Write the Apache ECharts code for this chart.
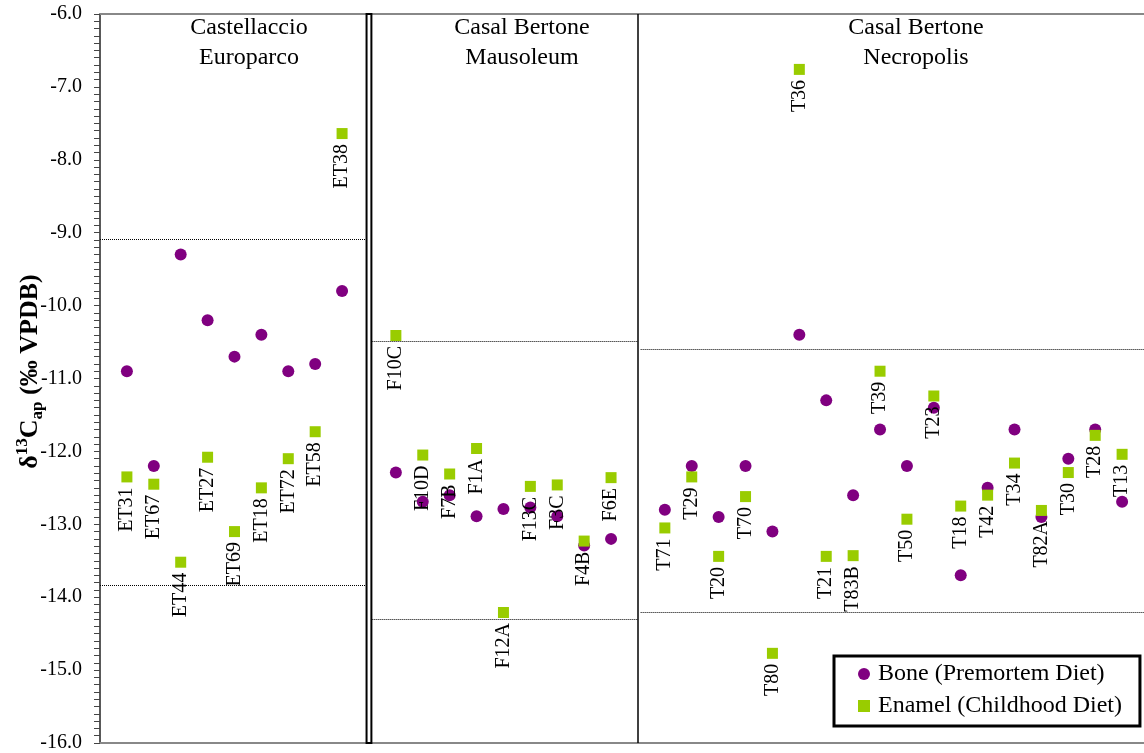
<!DOCTYPE html>
<html>
<head>
<meta charset="utf-8">
<script src="https://cdn.jsdelivr.net/npm/echarts@6/dist/echarts.min.js"></script>
<style>
  html, body { margin: 0; padding: 0; background: #fff; }
  #chart { width: 1144px; height: 753px; }
</style>
</head>
<body>
<div id="chart"></div>
<script>
// Sample identifiers and δ13C (apatite) values, one block per site
const castIds = ['ET31', 'ET67', 'ET44', 'ET27', 'ET69', 'ET18', 'ET72', 'ET58', 'ET38'];
const castBone = [-10.9, -12.2, -9.3, -10.2, -10.7, -10.4, -10.9, -10.8, -9.8];
const castEnamel = [-12.35, -12.45, -13.52, -12.08, -13.1, -12.5, -12.1, -11.73, -7.64];
const castRange = [-9.09, -13.83];

const mausIds = ['F10C', 'F10D', 'F7B', 'F1A', 'F12A', 'F13C', 'F3C', 'F4B', 'F6E'];
const mausBone = [-12.29, -12.69, -12.6, -12.89, -12.79, -12.77, -12.89, -13.29, -13.2];
const mausEnamel = [-10.41, -12.05, -12.31, -11.96, -14.21, -12.48, -12.46, -13.23, -12.36];
const mausRange = [-10.49, -14.30];

const necroIds = ['T71', 'T29', 'T20', 'T70', 'T80', 'T36', 'T21', 'T83B', 'T39',
                  'T50', 'T23', 'T18', 'T42', 'T34', 'T82A', 'T30', 'T28', 'T13'];
const necroBone = [-12.8, -12.2, -12.9, -12.2, -13.1, -10.4, -11.3, -12.6, -11.7,
                   -12.2, -11.4, -13.7, -12.5, -11.7, -12.9, -12.1, -11.7, -12.69];
const necroEnamel = [-13.05, -12.35, -13.44, -12.62, -14.77, -6.76, -13.44, -13.43, -10.9,
                     -12.93, -11.24, -12.75, -12.6, -12.16, -12.81, -12.29, -11.78, -12.04];
const necroRange = [-10.60, -14.21];

const siteTitles = ['Castellaccio\nEuroparco', 'Casal Bertone\nMausoleum', 'Casal Bertone\nNecropolis'];
const seriesNames = ['Bone (Premortem Diet)', 'Enamel (Childhood Diet)'];

const FONT = '"Liberation Serif", "Times New Roman", Times, serif';

const sites = [
  { ids: castIds, bone: castBone, enamel: castEnamel, range: castRange },
  { ids: mausIds, bone: mausBone, enamel: mausEnamel, range: mausRange },
  { ids: necroIds, bone: necroBone, enamel: necroEnamel, range: necroRange }
];

// Each site occupies consecutive slots on the x scale, with one empty slot as a divider
const bonePts = [];
const enamelPts = [];
const dividers = [];
let offset = 0;
sites.forEach(s => {
  s.start = offset;
  s.ids.forEach((id, i) => {
    const x = offset + i + 1;
    bonePts.push([x, s.bone[i], id]);
    enamelPts.push([x, s.enamel[i], id]);
  });
  offset += s.ids.length + 1;
  s.end = offset;
  dividers.push(offset);
});
const xMax = offset;

// Dotted range lines for each site, stopping at the dividers
const rangeLines = [];
sites.forEach((s, si) => {
  const x0 = si === 0 ? s.start : s.start + 0.1;
  const x1 = si === 0 ? s.end - 0.1 : (si === sites.length - 1 ? xMax : s.end);
  s.range.forEach(v => rangeLines.push([{ coord: [x0, v] }, { coord: [x1, v] }]));
});

const chart = echarts.init(document.getElementById('chart'), null, { renderer: 'canvas' });

const titleCenters = [249, 522, 916];

chart.setOption({
  animation: false,
  backgroundColor: '#fff',
  grid: { left: 100, top: 14, width: 1049, height: 729, outerBoundsMode: 'none', containLabel: false },
  xAxis: [
    {
      type: 'value', min: 0, max: xMax, position: 'bottom',
      axisLine: { show: true, onZero: false, lineStyle: { color: '#888', width: 2 } },
      axisTick: { show: false }, axisLabel: { show: false }, splitLine: { show: false }
    },
    {
      type: 'value', min: 0, max: xMax, position: 'top',
      axisLine: { show: true, onZero: false, lineStyle: { color: '#888', width: 2 } },
      axisTick: { show: false }, axisLabel: { show: false }, splitLine: { show: false }
    }
  ],
  yAxis: {
    type: 'value', min: -16, max: -6, interval: 1,
    axisLine: { show: true, onZero: false, lineStyle: { color: '#222', width: 1.5 } },
    axisTick: { show: true, inside: false, length: 6, lineStyle: { color: '#444', width: 1 } },
    minorTick: { show: true, splitNumber: 10, length: 6, lineStyle: { color: '#444', width: 1 } },
    splitLine: { show: false },
    axisLabel: {
      margin: 18, color: '#000', fontFamily: FONT, fontSize: 20,
      formatter: v => v.toFixed(1)
    },
    name: '{d|δ}{sup|13}{d|C}{sub|ap}{d| (‰ VPDB)}',
    nameLocation: 'middle',
    nameRotate: 90,
    nameGap: 54,
    nameMoveOverlap: false,
    nameTextStyle: {
      padding: [0, 0, 0, 14],
      fontFamily: FONT, fontWeight: 'bold', fontSize: 26, color: '#000',
      rich: {
        d: { fontFamily: FONT, fontWeight: 'bold', fontSize: 26, lineHeight: 32, color: '#000' },
        sup: { fontFamily: FONT, fontWeight: 'bold', fontSize: 17, lineHeight: 17, verticalAlign: 'top', color: '#000' },
        sub: { fontFamily: FONT, fontWeight: 'bold', fontSize: 17, lineHeight: 17, verticalAlign: 'bottom', color: '#000' }
      }
    }
  },
  legend: {
    orient: 'vertical',
    left: 834, top: 656,
    data: seriesNames,
    itemWidth: 12, itemHeight: 12, itemGap: 4,
    padding: [4, 18, 6, 24],
    borderColor: '#000', borderWidth: 3, borderRadius: 0,
    backgroundColor: '#fff',
    textStyle: { fontFamily: FONT, fontSize: 24, color: '#000', lineHeight: 28, padding: [0, 0, 0, 3] },
    selectedMode: false
  },
  graphic: siteTitles.map((t, i) => ({
    type: 'text',
    x: titleCenters[i], y: 13,
    silent: true,
    style: {
      text: t, fill: '#000', font: '24px ' + FONT,
      align: 'center', verticalAlign: 'top', lineHeight: 29.5
    }
  })),
  series: [
    {
      name: seriesNames[0],
      type: 'scatter',
      symbol: 'circle', symbolSize: 12,
      itemStyle: { color: '#800080', opacity: 1 },
      data: bonePts,
      z: 3,
      markArea: {
        silent: true,
        itemStyle: { color: '#fff', borderColor: '#000', borderWidth: 2, opacity: 1 },
        data: [[{ xAxis: dividers[0] - 0.09, yAxis: -16 }, { xAxis: dividers[0] + 0.09, yAxis: -6 }]]
      },
      markLine: {
        silent: true,
        symbol: ['none', 'none'],
        label: { show: false },
        lineStyle: { color: '#000', width: 1, type: [1, 1], opacity: 1 },
        data: [
          { xAxis: dividers[1], lineStyle: { color: '#000', width: 1.5, type: 'solid' } },
          ...rangeLines
        ]
      }
    },
    {
      name: seriesNames[1],
      type: 'scatter',
      symbol: 'rect', symbolSize: 11,
      itemStyle: { color: '#99CC00', opacity: 1 },
      data: enamelPts,
      z: 4,
      label: {
        show: true,
        position: 'bottom',
        distance: 5,
        rotate: 90,
        align: 'right',
        verticalAlign: 'middle',
        fontFamily: FONT, fontSize: 20, color: '#000',
        formatter: p => p.value[2]
      }
    }
  ]
});
</script>
</body>
</html>
